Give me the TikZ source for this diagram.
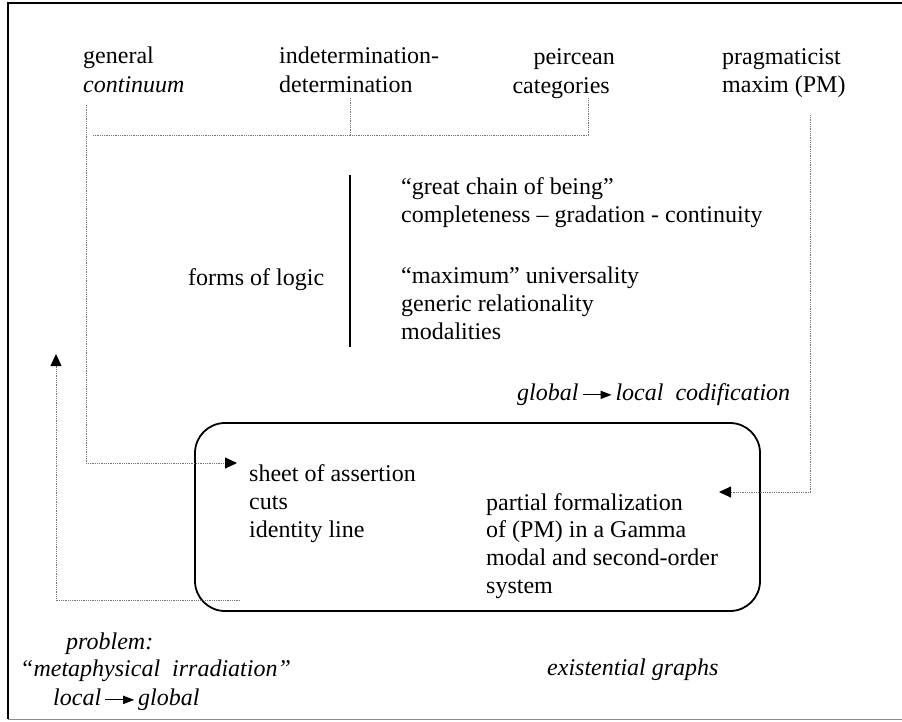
\documentclass[tikz,border=0pt]{standalone}
\usepackage{fontspec}
\setmainfont{Liberation Serif}
\usetikzlibrary{arrows.meta}
% a short arrow with a solid head, set inline with the text
\newcommand{\textarrow}{\,\tikz[baseline=0pt,x=1pt,y=1pt]{%
  \fill (0,4.6) rectangle (20,5.7);
  \fill (18,0.9) -- (29,5.15) -- (18,9.4) -- cycle;}\,}
\begin{document}
\begin{tikzpicture}[x=1pt,y=-1pt,
  txt/.style={inner sep=0pt, align=left, font=\fontsize{24}{28.5}\selectfont},
  boxtxt/.style={inner sep=0pt, align=left, font=\fontsize{24}{27.6}\selectfont},
  dotline/.style={draw=black!55, line width=0.9pt, dash pattern=on 0.9pt off 0.9pt},
  tip/.style={-{Triangle[length=12pt,width=11pt,color=black]}},
  frame/.style={line width=2pt},
  panel/.style={draw, line width=1.8pt, rounded corners=30pt, minimum width=565pt, minimum height=188pt, inner sep=0pt}
]
\useasboundingbox (0,0) rectangle (902,721);

% outer frame
\draw[frame] (910,3) -- (8,3) -- (8,719);
\draw[black!45, line width=1pt] (8,719.5) -- (910,719.5);

% top row of concepts (anchored at the baseline of the last line)
\node[txt, anchor=base west] (gen) at (83,92) {general\\\textit{continuum}};
\node[txt, anchor=base west] (ind) at (279,92) {indetermination-\\determination};
\node[txt, anchor=base east, align=right] (pei) at (615,93) {peircean\\categories\hspace*{5pt}};
\node[txt, anchor=base west] (prag) at (722,92.5) {pragmaticist\\maxim (PM)};

% forms of logic
\node[txt, anchor=base west] (forms) at (188,285) {forms of logic};
\draw[line width=2.5pt] (350,175) coordinate (barT) -- (350,347) coordinate (barB);
\node[boxtxt, anchor=base west] (chain) at (401,222.5) {“great chain of being”\\completeness – gradation - continuity};
\node[boxtxt, anchor=base west] (univ) at (401,339) {“maximum” universality\\generic relationality\\modalities};
\node[txt, anchor=base west] (glob) at (517,400) {\itshape global\textarrow local\ \ codification};

% existential graphs panel
\node[panel] (box) at (477.5,517) {};
\node[boxtxt, anchor=base west] (sheet) at (249,537) {sheet of assertion\\cuts\\identity line};
\node[boxtxt, anchor=base west] (pform) at (486,593) {partial formalization\\of (PM) in a Gamma\\modal and second-order\\system};
\node[txt, anchor=base west] (eg) at (547,675) {\itshape existential graphs};

% problem
\node[txt, anchor=base west] (prob) at (66,649) {\itshape problem:};
\node[txt, anchor=base west] (meta) at (20,676) {\itshape “metaphysical\ \ irradiation”};
\node[txt, anchor=base west] (lg) at (53,705) {\itshape local\textarrow global};

% connector end points
\coordinate (genS) at (86,105);
\coordinate (indS) at (350,98);
\coordinate (peiS) at (588,98);
\coordinate (joinL) at (93,135);
\coordinate (inA) at (237,463);
\coordinate (pragS) at (810,115);
\coordinate (inB) at (719,492);
\coordinate (outC) at (240,600);
\coordinate (upD) at (56,354);

% dotted connectors
\draw[dotline] (joinL) -| (peiS);
\draw[dotline] (indS) -- (indS |- joinL);
\draw[dotline, tip] (genS) |- (inA);
\draw[dotline, tip] (pragS) |- (inB);
\draw[dotline, tip] (outC) -| (upD);
\end{tikzpicture}
\end{document}
